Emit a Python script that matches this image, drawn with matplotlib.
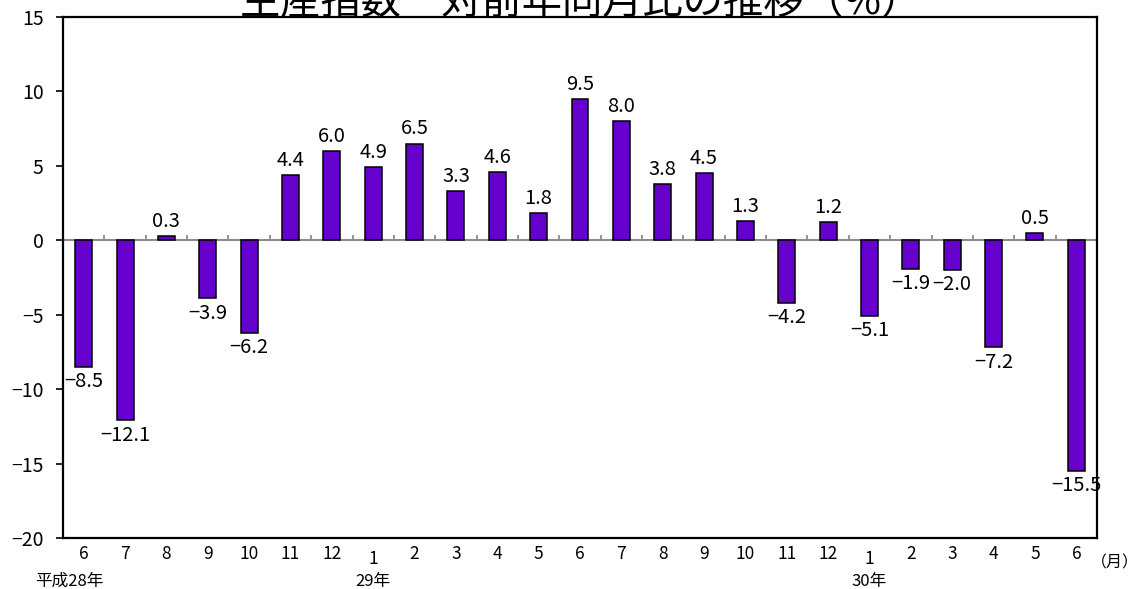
import matplotlib
matplotlib.use("Agg")
import matplotlib.pyplot as plt
import numpy as np

plt.rcParams['font.family'] = ['Noto Sans CJK JP', 'DejaVu Sans']
plt.rcParams['axes.unicode_minus'] = True

title = "生産指数　対前年同月比の推移（%）"
months = ["6", "7", "8", "9", "10", "11", "12", "1", "2", "3", "4", "5",
          "6", "7", "8", "9", "10", "11", "12", "1", "2", "3", "4", "5", "6"]
values = [-8.5, -12.1, 0.3, -3.9, -6.2, 4.4, 6.0, 4.9, 6.5, 3.3, 4.6, 1.8,
          9.5, 8.0, 3.8, 4.5, 1.3, -4.2, 1.2, -5.1, -1.9, -2.0, -7.2, 0.5, -15.5]
year_labels = {0: "平成28年", 7: "29年", 19: "30年"}
yticks = [-20, -15, -10, -5, 0, 5, 10, 15]

n = len(values)
x = np.arange(n)

fig = plt.figure(figsize=(11.37, 5.89), dpi=100)
ax = fig.add_axes([63/1137, 1-538/589, (1097-63)/1137, (538-17)/589])

ax.bar(x, values, width=0.41, color="#6600CC", edgecolor="black", linewidth=1.1, zorder=3)
ax.axhline(0, color="#8c8c8c", lw=1.5, zorder=2)
ax.vlines(np.arange(n + 1) - 0.5, 0, 0.33, color="#8c8c8c", lw=1.3, zorder=2)

ax.set_xlim(-0.5, n - 0.5)
ax.set_ylim(-20, 15)
ax.set_yticks(yticks)
ax.set_yticklabels([str(t).replace("-", "−") for t in yticks], fontsize=14)
ax.tick_params(axis="y", direction="out", length=5, width=1.2, pad=9)
ax.set_xticks([])
for s in ax.spines.values():
    s.set_linewidth(1.6)
    s.set_color("black")

for i, v in enumerate(values):
    lbl = f"{v:.1f}".replace("-", "−")
    if v >= 0:
        ax.annotate(lbl, xy=(i, v), xytext=(0, 3), textcoords="offset points",
                    ha="center", va="bottom", fontsize=14.5)
    else:
        ax.annotate(lbl, xy=(i, v), xytext=(0, -3), textcoords="offset points",
                    ha="center", va="top", fontsize=14.5)

xt = ax.get_xaxis_transform()
for i, m in enumerate(months):
    off = -8.5 if m == "1" else -5
    ax.annotate(m, xy=(i, 0), xycoords=xt, xytext=(0, off), textcoords="offset points",
                ha="center", va="top", fontsize=12.5)

for i, yl in year_labels.items():
    dx = -10 if i == 0 else 0
    ax.annotate(yl, xy=(i, 0), xycoords=xt, xytext=(dx, -25), textcoords="offset points",
                ha="center", va="top", fontsize=12)

fig.text(1115/1137, 1-563/589, "（月）", ha="center", va="center", fontsize=11.5)
fig.text(581/1137, 1-14/589, title, ha="center", va="baseline", fontsize=29)

fig.savefig("out.png", dpi=100)
